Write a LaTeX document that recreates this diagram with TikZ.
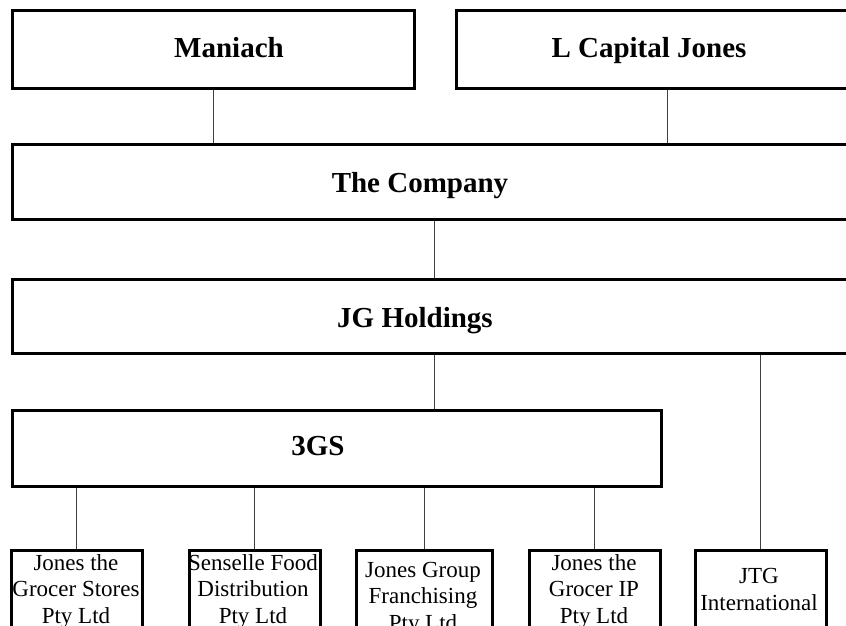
\documentclass[tikz,border=0pt]{standalone}
\usepackage{fontspec}
\setmainfont{Liberation Serif}
\tikzset{
  box/.style={draw=black, line width=2.6pt, rectangle, inner sep=0pt, anchor=north west},
  conn/.style={draw=black!75, line width=1pt},
  bigtxt/.style={font=\fontsize{29}{34}\selectfont\bfseries, anchor=base, inner sep=0pt},
  smalltxt/.style={font=\fontsize{23}{26.3}\selectfont, anchor=base, align=center, inner sep=0pt}
}
\begin{document}
\begin{tikzpicture}[x=1pt,y=-1pt]
\useasboundingbox (0,0) rectangle (846,625);
\clip (0,0) rectangle (846,625);
% boxes
\node[box, minimum width=402pt, minimum height=78pt] (maniach) at (11,9) {};
\node[box, minimum width=422pt, minimum height=78pt] (lcap) at (455,9) {};
\node[box, minimum width=849pt, minimum height=75pt] (company) at (11,143) {};
\node[box, minimum width=849pt, minimum height=74pt] (jg) at (11,278) {};
\node[box, minimum width=649pt, minimum height=76pt] (gs) at (11,409) {};
\node[box, minimum width=131pt, minimum height=100pt] (b1) at (10,549) {};
\node[box, minimum width=131pt, minimum height=100pt] (b2) at (188,549) {};
\node[box, minimum width=136pt, minimum height=100pt] (b3) at (355,549) {};
\node[box, minimum width=131pt, minimum height=100pt] (b4) at (528,549) {};
\node[box, minimum width=131pt, minimum height=100pt] (b5) at (694,549) {};
% connectors
\coordinate (cmid) at (434,218);
\draw[conn] (maniach.south) -- (maniach.south |- company.north);
\draw[conn] (lcap.south) -- (lcap.south |- company.north);
\draw[conn] (company.south -| cmid) -- (jg.north -| cmid);
\draw[conn] (jg.south -| cmid) -- (gs.north -| cmid);
\draw[conn] (jg.south -| b5.north) -- (b5.north);
\draw[conn] (gs.south -| b1.north) -- (b1.north);
\draw[conn] (gs.south -| b2.north) -- (b2.north);
\draw[conn] (gs.south -| b3.north) -- (b3.north);
\draw[conn] (gs.south -| b4.north) -- (b4.north);
% texts
\node[bigtxt] (tmaniach) at (229,57) {Maniach};
\node[bigtxt] (tlcap) at (649,57) {L Capital Jones};
\node[bigtxt] (tcompany) at (420,192) {The Company};
\node[bigtxt] (tjg) at (415,327) {JG Holdings};
\node[bigtxt] (tgs) at (318,455) {3GS};
\node[smalltxt] (t1) at (76,623) {Jones the\\Grocer Stores\\Pty Ltd};
\node[smalltxt] (t2) at (253,623) {Senselle Food\\Distribution\\Pty Ltd};
\node[smalltxt] (t3) at (423,630) {Jones Group\\Franchising\\Pty Ltd};
\node[smalltxt] (t4) at (594,623) {Jones the\\Grocer IP\\Pty Ltd};
\node[smalltxt] (t5) at (759,610) {JTG\\International};
\end{tikzpicture}
\end{document}
